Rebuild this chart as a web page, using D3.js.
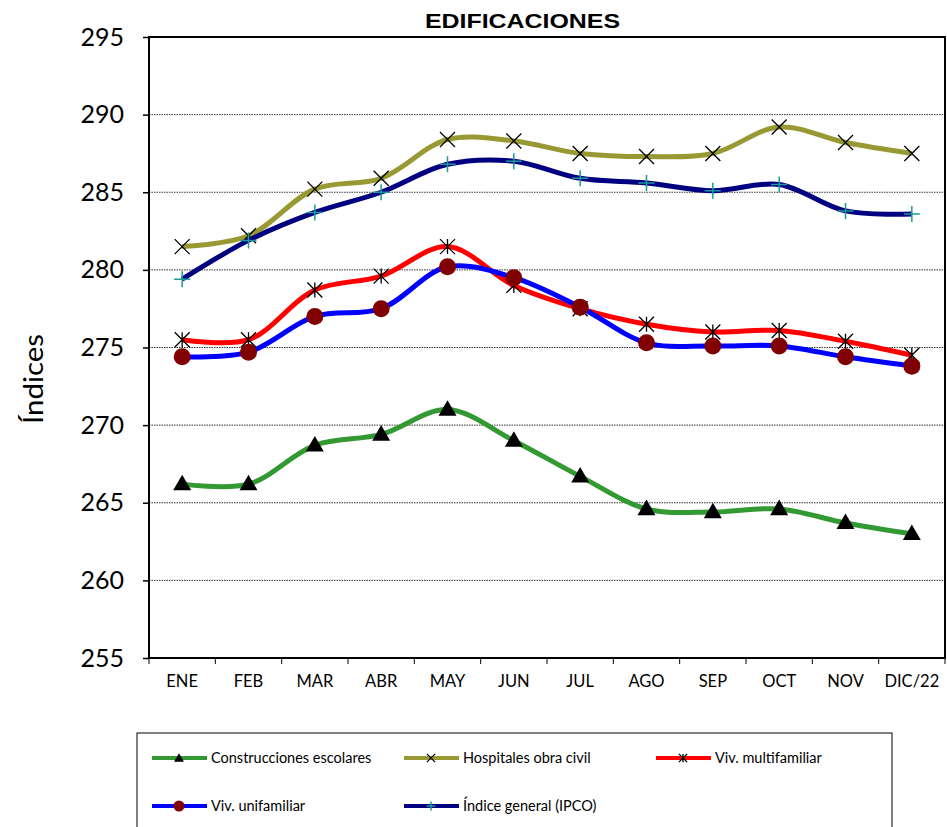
<!DOCTYPE html>
<html>
<head>
<meta charset="utf-8">
<script src="https://cdn.jsdelivr.net/npm/d3@7"></script>
<style>
  html, body { margin: 0; padding: 0; background: #fff; }
  svg { display: block; }
</style>
</head>
<body>
<svg id="chart" width="947" height="827"></svg>
<script>
const months = ["ENE","FEB","MAR","ABR","MAY","JUN","JUL","AGO","SEP","OCT","NOV","DIC/22"];
const yTicks = [255,260,265,270,275,280,285,290,295];
const construccionesEscolares = [266.2,266.2,268.7,269.4,271.0,269.0,266.7,264.6,264.4,264.6,263.7,263.0];
const hospitalesObraCivil     = [281.5,282.2,285.2,285.9,288.4,288.3,287.5,287.3,287.5,289.2,288.2,287.5];
const vivMultifamiliar        = [275.5,275.5,278.7,279.6,281.5,279.0,277.5,276.5,276.0,276.1,275.4,274.5];
const vivUnifamiliar          = [274.4,274.7,277.0,277.5,280.2,279.5,277.6,275.3,275.1,275.1,274.4,273.8];
const indiceGeneral           = [279.4,281.9,283.7,285.0,286.8,287.0,285.9,285.6,285.1,285.5,283.8,283.6];

const series = [
  {name:"Construcciones escolares", values:construccionesEscolares, color:"#339933", marker:"triangle"},
  {name:"Hospitales obra civil", values:hospitalesObraCivil, color:"#999933", marker:"x"},
  {name:"Viv. multifamiliar", values:vivMultifamiliar, color:"#ff0000", marker:"star"},
  {name:"Viv. unifamiliar", values:vivUnifamiliar, color:"#0000ff", marker:"circle"},
  {name:"Índice general (IPCO)", values:indiceGeneral, color:"#000080", marker:"plus"}
];

(function () {
const svg = d3.select("#chart");
const pLeft = 149, pRight = 945, pTop = 37, pBottom = 658;
const FONT = "Lato, 'DejaVu Sans', sans-serif";

const x = d3.scaleBand().domain(months).range([pLeft, pRight]).padding(0);
const y = d3.scaleLinear().domain([255,295]).range([pBottom, pTop]);

// gridlines
svg.append("g").selectAll("line").data(yTicks.filter(d => d > 255 && d < 295)).join("line")
  .attr("x1", pLeft).attr("x2", pRight)
  .attr("y1", d => y(d)).attr("y2", d => y(d))
  .attr("stroke", "#333").attr("stroke-width", 1).attr("stroke-dasharray", "1.5,1");

// Y axis
const yAxis = svg.append("g").attr("transform", `translate(${pLeft},0)`)
  .call(d3.axisLeft(y).tickValues(yTicks).tickSize(6).tickPadding(19).tickFormat(d3.format("d")));
yAxis.select(".domain").remove();
yAxis.selectAll(".tick line").attr("stroke", "#000").attr("stroke-width", 1.5);
yAxis.selectAll("text").attr("font-family", FONT).attr("font-size", 25).attr("fill", "#000");

// X axis
const xAxis = svg.append("g").attr("transform", `translate(0,${pBottom})`)
  .call(d3.axisBottom(x).tickSize(0).tickPadding(17));
xAxis.select(".domain").remove();
xAxis.selectAll("text").attr("font-family", FONT).attr("font-size", 16.5).attr("fill", "#000");
// boundary ticks
svg.append("g").selectAll("line").data(d3.range(months.length + 1)).join("line")
  .attr("x1", i => pLeft + i * x.bandwidth()).attr("x2", i => pLeft + i * x.bandwidth())
  .attr("y1", pBottom).attr("y2", pBottom + 6)
  .attr("stroke", "#000").attr("stroke-width", 1);

// plot border
svg.append("rect").attr("x", pLeft).attr("y", pTop).attr("width", pRight - pLeft).attr("height", pBottom - pTop)
  .attr("fill", "none").attr("stroke", "#000").attr("stroke-width", 2);

// title
svg.append("text").attr("x", 522.5).attr("y", 28).attr("text-anchor", "middle")
  .attr("font-family", "'Liberation Sans', Arial, sans-serif").attr("font-weight", "bold")
  .attr("font-size", 21).attr("textLength", 195).attr("lengthAdjust", "spacingAndGlyphs")
  .text("EDIFICACIONES");

// y label
svg.append("text").attr("transform", `translate(43,379) rotate(-90)`)
  .attr("text-anchor", "middle").attr("font-family", FONT).attr("font-size", 27)
  .attr("textLength", 90).attr("lengthAdjust", "spacingAndGlyphs")
  .text("Índices");

function drawMarker(g, type, cx, cy, scale) {
  const s = scale || 1;
  if (type === "triangle") {
    g.append("path").attr("d", d3.symbol(d3.symbolTriangle, 140 * s * s)())
      .attr("transform", `translate(${cx},${cy + 1})`).attr("fill", "#000");
  } else if (type === "circle") {
    g.append("circle").attr("cx", cx).attr("cy", cy).attr("r", 8.5 * s).attr("fill", "#800000");
  } else if (type === "x" || type === "star") {
    const r = 7.5 * s;
    g.append("path").attr("d", `M${cx-r},${cy-r}L${cx+r},${cy+r}M${cx-r},${cy+r}L${cx+r},${cy-r}` +
      (type === "star" ? `M${cx},${cy-r}L${cx},${cy+r}` : ""))
      .attr("stroke", "#000").attr("stroke-width", 1.3).attr("fill", "none");
  } else if (type === "plus") {
    const r = 8 * s;
    g.append("path").attr("d", `M${cx-r},${cy}L${cx+r},${cy}M${cx},${cy-r}L${cx},${cy+r}`)
      .attr("stroke", "#1a9a9a").attr("stroke-width", 1.5).attr("fill", "none");
  }
}

const line = d3.line()
  .x((d, i) => x(months[i]) + x.bandwidth() / 2)
  .y(d => y(d))
  .curve(d3.curveCatmullRom.alpha(0.5));

series.forEach(s => {
  const g = svg.append("g");
  g.append("path").attr("d", line(s.values)).attr("fill", "none")
    .attr("stroke", s.color).attr("stroke-width", 5).attr("stroke-linejoin", "round");
  s.values.forEach((v, i) => drawMarker(g, s.marker, x(months[i]) + x.bandwidth() / 2, y(v)));
});

// legend
svg.append("rect").attr("x", 137).attr("y", 733).attr("width", 755).attr("height", 110)
  .attr("fill", "#fff").attr("stroke", "#000").attr("stroke-width", 1);
const legPos = [[152,758],[404,758],[656,758],[152,806],[404,806]];
series.forEach((s, i) => {
  const [lx, ly] = legPos[i];
  const g = svg.append("g");
  g.append("line").attr("x1", lx).attr("x2", lx + 55).attr("y1", ly).attr("y2", ly)
    .attr("stroke", s.color).attr("stroke-width", 4);
  drawMarker(g, s.marker, lx + 27, ly, s.marker === "circle" ? 0.65 : 0.55);
  g.append("text").attr("x", lx + 59).attr("y", ly + 5).attr("font-family", FONT)
    .attr("font-size", 14.5).text(s.name);
});
})();
</script>
</body>
</html>
